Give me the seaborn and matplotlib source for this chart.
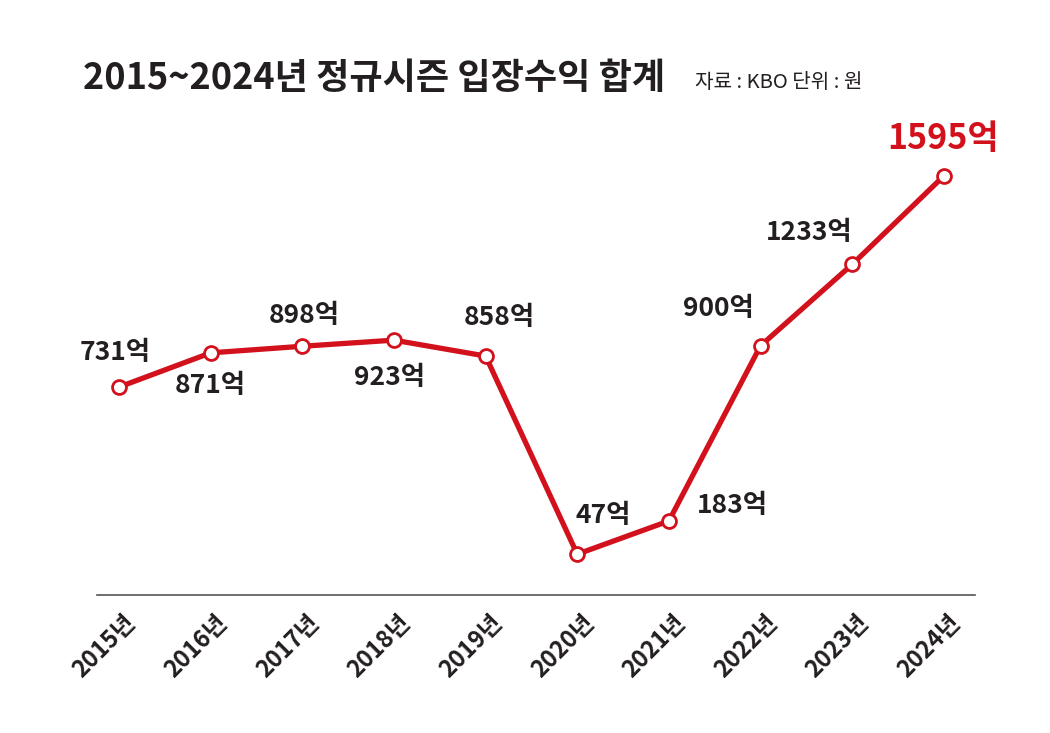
import matplotlib
matplotlib.use("Agg")
import matplotlib.pyplot as plt
import matplotlib.transforms as mtransforms
import seaborn as sns
import pandas as pd

# data
years = [2015, 2016, 2017, 2018, 2019, 2020, 2021, 2022, 2023, 2024]
revenue = [731, 871, 898, 923, 858, 47, 183, 900, 1233, 1595]
year_labels = [f"{y}년" for y in years]
value_labels = [f"{v}억" for v in revenue]

RED = "#d2111d"
INK = "#231f20"

sns.set_style("white")
plt.rcParams['font.family'] = ['Noto Sans CJK KR', 'DejaVu Sans']

df = pd.DataFrame({"year": years, "revenue": revenue})

fig = plt.figure(figsize=(10.5, 7.33), dpi=100)
# axes box: baseline at y=595px, spans x 97..975px
ax = fig.add_axes([97 / 1050, (733 - 595) / 733, (975 - 97) / 1050, (595 - 130) / 733])

sns.lineplot(data=df, x="year", y="revenue", ax=ax, color=RED, linewidth=3.8,
             marker="o", markersize=10, markerfacecolor="white",
             markeredgecolor=RED, markeredgewidth=2.0)

ax.set_xlim(2014.76, 2024.34)
ax.set_ylim(-120, 1783)

for s in ["top", "right", "left"]:
    ax.spines[s].set_visible(False)
ax.spines["bottom"].set_color("#555555")
ax.spines["bottom"].set_linewidth(1.2)
ax.set_yticks([])
ax.set_xticks(years)
ax.set_xticklabels(year_labels, rotation=45, ha="right", va="center",
                   rotation_mode="anchor", fontsize=17, fontweight="bold", color=INK)
ax.tick_params(axis="x", length=0, pad=17)
shift = mtransforms.ScaledTranslation(13 / 100, 0, fig.dpi_scale_trans)
for lab in ax.get_xticklabels():
    lab.set_transform(lab.get_transform() + shift)
ax.set_xlabel("")
ax.set_ylabel("")

# value labels (offsets in pixels)
offsets = [(-4, 35), (0, -33), (2, 31), (-4, -37), (14, 39),
           (26, 39), (63, 15), (-42, 37), (-43, 32), (-1, 37)]
for i, (x, v) in enumerate(zip(years, revenue)):
    last = i == len(years) - 1
    ax.annotate(value_labels[i], (x, v), xytext=offsets[i], textcoords="offset pixels",
                ha="center", va="center", fontweight="bold",
                fontsize=24.5 if last else 19, color=RED if last else INK)

fig.text(83 / 1050, 1 - 78 / 733, "2015~2024년 정규시즌 입장수익 합계", ha="left", va="center",
         fontsize=26, fontweight="bold", color=INK)
fig.text(695 / 1050, 1 - 82 / 733, "자료 : KBO 단위 : 원", ha="left", va="center",
         fontsize=14.5, color=INK)

fig.savefig("out.png", dpi=100, facecolor="white")
